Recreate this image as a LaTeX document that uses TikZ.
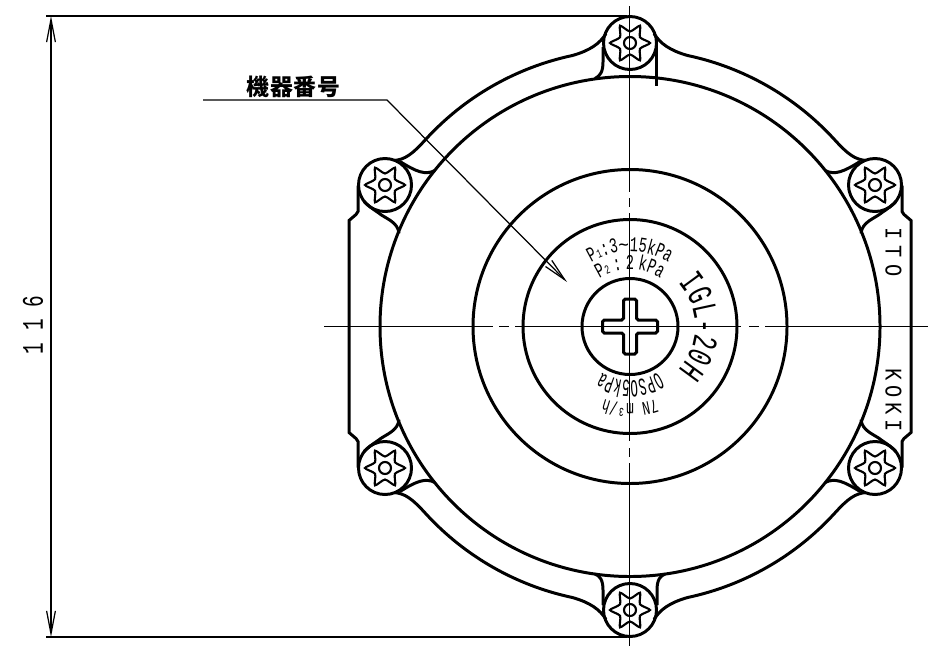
\documentclass[tikz,border=0pt]{standalone}
\usepackage{fontspec}
\usepackage{amsmath}
\usetikzlibrary{calc,arrows.meta,decorations.text}
\newfontfamily\cadfont[FakeStretch=0.65]{Liberation Mono}
\newfontfamily\cadslim[FakeStretch=0.5]{Liberation Mono}
\newfontfamily\cadwide[FakeStretch=0.85]{Liberation Mono}
\newfontfamily\kanjifont{Noto Sans CJK JP}
\newcommand{\cadsmall}{\fontsize{12}{12}\cadfont}
\newcommand{\cadtiny}{\fontsize{7}{7}\cadfont}
\newcommand{\cadtall}{\fontsize{14}{14}\cadslim}
\tikzset{
  heavy/.style={line width=1.7pt},
  thin line/.style={line width=0.7pt},
  ringtext/.style={decorate,decoration={text along path,text align=center,text={#1}}},
  boltcap/.pic={
    \draw [black,heavy] (0,0) circle (26.5);
    \draw [black,line width=1.2pt] plot [smooth cycle,tension=0.4] coordinates
      {(0:20) (30:11.5) (60:20) (90:11.5) (120:20) (150:11.5) (180:20) (210:11.5) (240:20) (270:11.5) (300:20) (330:11.5)};
    \draw [black,line width=1.2pt] (0,0) circle (6);
  }
}
\begin{document}
\begin{tikzpicture}[x=0.02cm,y=0.02cm]
            \useasboundingbox (0,0) rectangle (928,-646);
            \coordinate (hub) at (630,-326.5);
            % rings
            \draw [black,heavy] (hub) circle (250);
            \draw [black,heavy] (hub) circle (157);
            \draw [black,heavy] (hub) circle (107);
            \draw [black,heavy] (hub) circle (48);
            % cross recess
            \draw [black,heavy,rounded corners=1] ($(hub)+(-6.5,27.5)$) -- ($(hub)+(6.5,27.5)$) -- ($(hub)+(6.5,6.5)$) -- ($(hub)+(27.5,6.5)$) -- ($(hub)+(27.5,-6.5)$) -- ($(hub)+(6.5,-6.5)$) -- ($(hub)+(6.5,-27.5)$) -- ($(hub)+(-6.5,-27.5)$) -- ($(hub)+(-6.5,-6.5)$) -- ($(hub)+(-27.5,-6.5)$) -- ($(hub)+(-27.5,6.5)$) -- ($(hub)+(-6.5,6.5)$) -- cycle;
            % bolts
            \pic at (630,-43) {boltcap};
            \pic at (630,-610) {boltcap};
            \pic at (385,-185) {boltcap};
            \pic at (875,-185) {boltcap};
            \pic at (385,-468) {boltcap};
            \pic at (875,-468) {boltcap};
            % body outline, one quarter at a time
            \foreach \sx/\sy in {1/1,-1/1,1/-1,-1/-1} {
              \begin{scope}[shift={(630,-326.5)},xscale=\sx,yscale=\sy]
                \draw [black,heavy] (24,293) .. controls (30,283) and (40,276) .. (57.6,271) arc (78:42.5:277) .. controls (218,172) and (225,167) .. (236,166);
                \draw [black,heavy] (272,141) -- (272,115) -- (274,112) -- (281,106) -- (281,0);
                \draw [black,heavy] (231,93) .. controls (232,105) and (245,108) .. (252,114) .. controls (258,118) and (262,121) .. (266,125);
                \draw [black,heavy] (195,156) .. controls (205,151) and (214,155) .. (230,165);
              \end{scope}
            }
            % cups of the top and bottom bolts
            \draw [black,heavy] (603,-47) -- (603,-62) .. controls (603,-72) and (600,-76) .. (595,-78.5);
            \draw [black,heavy] (656,-40) -- (656,-86);
            \draw [black,heavy] (603,-605) -- (603,-590) .. controls (603,-580) and (600,-576) .. (595,-574);
            \draw [black,heavy] (657,-605) -- (657,-590) .. controls (657,-580) and (660,-576) .. (665,-574);
            % centre lines
            \coordinate (westend) at (324,-326.5);
            \coordinate (westa) at (493,-326.5);
            \coordinate (westb) at (499,-326.5);
            \coordinate (westc) at (509,-326.5);
            \coordinate (westd) at (515,-326.5);
            \coordinate (eastd) at (741,-326.5);
            \coordinate (eastc) at (749,-326.5);
            \coordinate (eastb) at (759,-326.5);
            \coordinate (easta) at (765,-326.5);
            \coordinate (eastend) at (928,-326.5);
            \draw [black,thin line] (westend) -- (westa);
            \draw [black,thin line] (westb) -- (westc);
            \draw [black,thin line] (westd) -- (eastd);
            \draw [black,thin line] (eastc) -- (eastb);
            \draw [black,thin line] (easta) -- (eastend);
            \coordinate (northend) at (629.5,-6);
            \coordinate (northa) at (629.5,-192);
            \coordinate (northb) at (629.5,-198);
            \coordinate (northc) at (629.5,-207);
            \coordinate (northd) at (629.5,-213);
            \coordinate (southd) at (629.5,-441);
            \coordinate (southc) at (629.5,-448);
            \coordinate (southb) at (629.5,-457);
            \coordinate (southa) at (629.5,-463);
            \coordinate (southend) at (629.5,-646);
            \draw [black,thin line] (northend) -- (northa);
            \draw [black,thin line] (northb) -- (northc);
            \draw [black,thin line] (northd) -- (southd);
            \draw [black,thin line] (southc) -- (southb);
            \draw [black,thin line] (southa) -- (southend);
            % overall height
            \coordinate (exttop) at (46,-16);
            \coordinate (exttopend) at (627,-16);
            \coordinate (extbot) at (46,-637);
            \coordinate (extbotend) at (627,-637);
            \coordinate (dimtop) at (51,-16);
            \coordinate (dimbot) at (51,-637);
            \draw [black,thin line] (exttop) -- (exttopend);
            \draw [black,thin line] (extbot) -- (extbotend);
            \draw [black,thin line,{Straight Barb[length=13pt,width=5pt]}-{Straight Barb[length=13pt,width=5pt]}] (dimtop) -- (dimbot);
            \node [rotate=90,inner sep=0pt] (dimlabel) at (33,-325) {\fontsize{17}{17}\cadfont 1 1 6};
            % leader
            \coordinate (leadstart) at (203,-100);
            \coordinate (leadbend) at (387,-100);
            \coordinate (leadtip) at (567,-282);
            \draw [black,thin line,-{Straight Barb[length=13pt,width=5pt]}] (leadstart) -- (leadbend) -- (leadtip);
            \node [inner sep=0pt] (tagname) at (293.5,-87) {\kanjifont\addfontfeature{LetterSpace=3}\fontsize{13}{13}\selectfont\bfseries 機器番号};
            % side marks
            \node [rotate=-90,inner sep=0pt] (markito) at (893.5,-252) {\cadwide\fontsize{13.6}{13.6}\selectfont\addfontfeature{LetterSpace=28}ITO};
            \node [rotate=-90,inner sep=0pt] (markkoki) at (893.5,-400) {\cadwide\fontsize{13.6}{13.6}\selectfont\addfontfeature{LetterSpace=20}KOKI};
            % plate lettering
            \path [ringtext={|\cadsmall\selectfont|P|\cadtiny\selectfont|1|\cadsmall\selectfont|:3{\cadwide\textasciitilde}15kPa}] ($(hub)+(150:75)$) arc (150:30:75);
            \path [ringtext={|\cadsmall\selectfont|P|\cadtiny\selectfont|2|\cadsmall\selectfont|{\kern2pt}:{\kern2pt}2{\kern2pt}kPa}] ($(hub)+(160:57)$) arc (160:20:57);
            \path [ringtext={|\fontsize{20}{20}\cadfont|IGL-20H}] ($(hub)+(70:65)$) arc (70:-70:65);
            \path [ringtext={|\cadtall\selectfont|OPSO5kPa}] ($(hub)+(-30:54)$) arc (-30:-150:54);
            \path [ringtext={|\fontsize{11}{11}\cadfont|7N m³/h}] ($(hub)+(-40:77)$) arc (-40:-140:77);
\end{tikzpicture}
\end{document}
